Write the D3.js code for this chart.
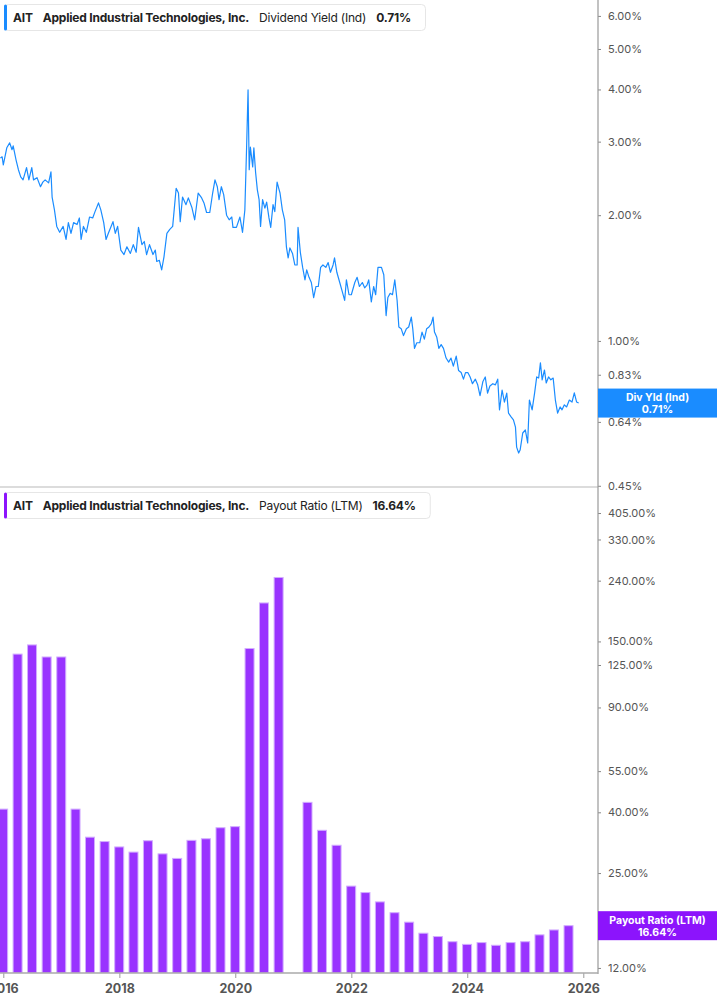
<!DOCTYPE html>
<html>
<head>
<meta charset="utf-8">
<script src="https://cdn.jsdelivr.net/npm/d3@7"></script>
<style>
  body { margin: 0; background: #fff; }
  svg text { font-family: Inter, 'Noto Sans', sans-serif; }
</style>
</head>
<body>
<svg id="chart" width="717" height="1005"></svg>
<script>
const ticker = 'AIT';
const company = 'Applied Industrial Technologies, Inc.';
const yieldName = 'Dividend Yield (Ind)';
const payoutName = 'Payout Ratio (LTM)';
const yieldBadge = ['Div Yld (Ind)', '0.71%'];
const payoutBadge = ['Payout Ratio (LTM)', '16.64%'];
const yieldLast = 0.71;
const payoutLast = 16.64;

// dividend yield, [decimal year, %]
const yieldEarly = [
  [2015.95,2.74],[2015.98,2.76],[2016.00,2.64],[2016.06,2.90],[2016.11,2.98],[2016.15,2.87],[2016.17,2.93],[2016.22,2.71],
  [2016.26,2.57],[2016.30,2.47],[2016.34,2.43],[2016.40,2.60],[2016.44,2.43],[2016.49,2.60],[2016.52,2.43],[2016.58,2.46],
  [2016.64,2.34],[2016.68,2.40],[2016.72,2.43],[2016.78,2.39],[2016.82,2.54],[2016.84,2.21],[2016.88,2.06],[2016.92,1.88],
  [2016.97,1.82],[2017.03,1.88],[2017.08,1.75],[2017.12,1.92],[2017.165,1.81],[2017.21,1.92],[2017.27,1.90],[2017.31,1.97],
  [2017.34,1.75],[2017.38,1.88],[2017.43,1.82],[2017.485,1.98],[2017.54,1.97],[2017.58,2.04],[2017.64,2.14],[2017.68,2.06],
  [2017.73,1.92],[2017.77,1.75],[2017.81,1.81],[2017.89,1.93],[2017.93,1.81],[2017.97,1.88],[2018.025,1.65],[2018.08,1.61],
  [2018.13,1.68],[2018.19,1.62],[2018.24,1.70],[2018.29,1.63],[2018.33,1.87],[2018.39,1.70],[2018.43,1.73],[2018.47,1.61],
  [2018.52,1.70],[2018.58,1.61],[2018.62,1.65],[2018.645,1.55],[2018.69,1.56],[2018.73,1.48],[2018.77,1.59],[2018.82,1.81],
  [2018.87,1.85],[2018.92,1.88],[2018.98,2.32]
];
const yieldMid = [
  [2019.02,2.26],[2019.05,1.93],[2019.09,2.21],[2019.15,2.12],[2019.19,2.20],[2019.25,2.09],[2019.30,1.95],[2019.36,2.26],
  [2019.42,2.20],[2019.46,2.14],[2019.505,2.03],[2019.56,2.03],[2019.61,2.26],[2019.65,2.43],[2019.69,2.34],[2019.72,2.18],
  [2019.76,2.34],[2019.80,2.24],[2019.85,2.00],[2019.895,1.95],[2019.94,1.98],[2019.96,1.87],[2020.02,1.87],[2020.08,1.98],
  [2020.125,1.82],[2020.165,2.06],[2020.195,2.91],[2020.22,3.99],[2020.24,2.57],[2020.26,2.91],[2020.30,2.61],[2020.32,2.90],
  [2020.35,2.53],[2020.38,2.30],[2020.41,2.18],[2020.435,1.88],[2020.47,2.18],[2020.51,2.08],[2020.54,2.15],[2020.58,1.97],
  [2020.61,1.87],[2020.65,2.12],[2020.68,2.04],[2020.72,2.40],[2020.755,2.30],[2020.77,2.26],[2020.81,2.06],[2020.85,1.95],
  [2020.88,1.68],[2020.91,1.58],[2020.94,1.67],[2020.985,1.62],[2021.025,1.52],[2021.065,1.52],[2021.08,1.87],[2021.12,1.63],
  [2021.16,1.50],[2021.20,1.40],[2021.23,1.48],[2021.27,1.42],[2021.31,1.38],[2021.35,1.27],[2021.39,1.35],[2021.43,1.35],
  [2021.47,1.50],[2021.51,1.52],[2021.56,1.50],[2021.60,1.54],[2021.64,1.46],[2021.685,1.52],[2021.71,1.58],[2021.75,1.46],
  [2021.80,1.38],[2021.845,1.31],[2021.885,1.25],[2021.915,1.40],[2021.96,1.29]
];
const yieldLate = [
  [2022.00,1.29],[2022.06,1.38],[2022.10,1.42],[2022.14,1.35],[2022.19,1.38],[2022.23,1.34],[2022.27,1.36],[2022.30,1.40],
  [2022.345,1.24],[2022.385,1.35],[2022.42,1.29],[2022.46,1.50],[2022.52,1.50],[2022.56,1.44],[2022.60,1.15],[2022.63,1.27],
  [2022.67,1.30],[2022.71,1.29],[2022.75,1.40],[2022.79,1.25],[2022.82,1.08],[2022.86,1.07],[2022.90,1.03],[2022.95,1.07],
  [2022.99,1.08],[2023.035,1.14],[2023.06,1.07],[2023.09,0.96],[2023.13,0.99],[2023.18,0.99],[2023.22,1.05],[2023.26,1.01],
  [2023.30,1.07],[2023.34,1.08],[2023.38,1.10],[2023.41,1.14],[2023.435,1.05],[2023.475,1.02],[2023.51,0.96],[2023.55,0.98],
  [2023.59,0.96],[2023.635,0.91],[2023.68,0.89],[2023.72,0.91],[2023.76,0.87],[2023.81,0.92],[2023.85,0.85],[2023.895,0.84],
  [2023.935,0.81],[2023.97,0.84],[2024.01,0.84],[2024.05,0.82],[2024.09,0.79],[2024.14,0.81],[2024.18,0.785],[2024.22,0.74],
  [2024.27,0.80],[2024.31,0.82],[2024.35,0.75],[2024.39,0.78],[2024.44,0.79],[2024.485,0.785],[2024.525,0.81],[2024.555,0.684],
  [2024.60,0.763],[2024.64,0.714],[2024.68,0.75],[2024.71,0.672],[2024.755,0.658],[2024.795,0.647],[2024.83,0.622],[2024.85,0.557],
  [2024.885,0.539],[2024.91,0.548],[2024.955,0.602],[2025.00,0.612],[2025.04,0.57],[2025.07,0.722],[2025.117,0.684],[2025.16,0.751],
  [2025.196,0.82],[2025.23,0.815],[2025.26,0.886],[2025.29,0.807],[2025.33,0.852],[2025.36,0.793],[2025.40,0.82],[2025.44,0.807],
  [2025.48,0.815],[2025.518,0.722],[2025.557,0.672],[2025.60,0.695],[2025.633,0.684],[2025.673,0.703],[2025.712,0.695],[2025.759,0.722],
  [2025.805,0.714],[2025.845,0.751],[2025.885,0.714],[2025.92,0.71]
];

// payout ratio, quarter end dates (Dec 2020 has no value)
const payoutDates = [
  '2015-12-31','2016-03-31','2016-06-30','2016-09-30','2016-12-31','2017-03-31','2017-06-30','2017-09-30',
  '2017-12-31','2018-03-31','2018-06-30','2018-09-30','2018-12-31','2019-03-31','2019-06-30','2019-09-30',
  '2019-12-31','2020-03-31','2020-06-30','2020-09-30','2021-03-31','2021-06-30','2021-09-30','2021-12-31',
  '2022-03-31','2022-06-30','2022-09-30','2022-12-31','2023-03-31','2023-06-30','2023-09-30','2023-12-31',
  '2024-03-31','2024-06-30','2024-09-30','2024-12-31','2025-03-31','2025-06-30','2025-09-30'
];
const payoutValues = [
  41, 136, 146, 133, 133, 41, 33.0, 31.9,
  30.6, 29.4, 32.1, 29.0, 28.0, 32.2, 32.6, 35.5,
  35.8, 142, 202, 246, 43.2, 34.8, 31.0, 22.6,
  21.5, 20.0, 18.4, 17.1, 15.7, 15.3, 14.7, 14.4,
  14.6, 14.3, 14.6, 14.7, 15.5, 16.1, 16.64
];

const yieldTicks = [6, 5, 4, 3, 2, 1, 0.83, 0.64, 0.45];
const payoutTicks = [405, 330, 240, 150, 125, 90, 55, 40, 25, 12];
const yearTicks = [2016, 2018, 2020, 2022, 2024, 2026];

const blue = '#1a8cff';
const purple = '#9933ff';
const purpleDark = '#8c14fc';

const svg = d3.select('#chart');
const plotRight = 598;
const topPanel = { top: 0, bottom: 487 };
const botPanel = { top: 488, bottom: 973 };

function fromDecimal(t) {
  const y = Math.floor(t);
  const start = new Date(y, 0, 1);
  const end = new Date(y + 1, 0, 1);
  return new Date(+start + (t - y) * (end - start));
}

const yieldData = [...yieldEarly, ...yieldMid, ...yieldLate].map(([t, v]) => ({
  date: fromDecimal(t),
  value: v
}));
const payoutData = payoutDates.map((d, i) => ({
  date: d3.timeParse('%Y-%m-%d')(d),
  value: payoutValues[i]
}));

const x = d3
  .scaleTime()
  .domain([new Date(2016, 0, 1), new Date(2026, 0, 1)])
  .range([3.3, 583.3]);
const yTop = d3.scaleLog().domain([0.447, 6.55]).range([topPanel.bottom, topPanel.top]);
const yBot = d3.scaleLog().domain([11.54, 491.5]).range([botPanel.bottom, botPanel.top]);

const defs = svg.append('defs');
defs.append('clipPath').attr('id', 'clip-top')
  .append('rect').attr('x', 0).attr('y', 0).attr('width', plotRight).attr('height', topPanel.bottom);
defs.append('clipPath').attr('id', 'clip-bot')
  .append('rect').attr('x', 0).attr('y', botPanel.top).attr('width', plotRight)
  .attr('height', botPanel.bottom - botPanel.top);

// panel separator
svg.append('line')
  .attr('x1', 0).attr('x2', plotRight)
  .attr('y1', 487).attr('y2', 487)
  .attr('stroke', '#dcdcdc').attr('stroke-width', 2);

// dividend yield line
const line = d3.line().x(d => x(d.date)).y(d => yTop(d.value));
svg.append('g').attr('clip-path', 'url(#clip-top)')
  .append('path')
  .datum(yieldData)
  .attr('fill', 'none')
  .attr('stroke', blue)
  .attr('stroke-width', 1.2)
  .attr('stroke-linejoin', 'round')
  .attr('d', line);

// payout bars
const barW = 9;
svg.append('g').attr('clip-path', 'url(#clip-bot)')
  .selectAll('rect')
  .data(payoutData)
  .join('rect')
  .attr('x', d => x(d.date) - barW / 2)
  .attr('y', d => yBot(d.value))
  .attr('width', barW)
  .attr('height', d => botPanel.bottom - yBot(d.value))
  .attr('fill', purple)
  .attr('stroke', '#d2adff')
  .attr('stroke-width', 1);

// right axes
function styleAxis(g) {
  g.select('.domain').remove();
  g.selectAll('.tick line').attr('stroke', '#888');
  g.selectAll('.tick text')
    .attr('fill', '#555')
    .style('font-size', '11px');
}
svg.append('g')
  .attr('transform', `translate(${plotRight},0)`)
  .call(d3.axisRight(yTop).tickValues(yieldTicks).tickFormat(d => d.toFixed(2) + '%').tickSize(3).tickPadding(7))
  .call(styleAxis);
svg.append('g')
  .attr('transform', `translate(${plotRight},0)`)
  .call(d3.axisRight(yBot).tickValues(payoutTicks).tickFormat(d => d.toFixed(2) + '%').tickSize(3).tickPadding(7))
  .call(styleAxis);

svg.append('line')
  .attr('x1', plotRight).attr('x2', plotRight)
  .attr('y1', 0).attr('y2', botPanel.bottom + 1)
  .attr('stroke', '#999').attr('stroke-width', 1.2);

// bottom axis
const xAxisG = svg.append('g')
  .attr('transform', `translate(0,${botPanel.bottom})`)
  .call(d3.axisBottom(x)
    .tickValues(yearTicks.map(y => new Date(y, 0, 1)))
    .tickFormat(d3.timeFormat('%Y'))
    .tickSize(5)
    .tickPadding(6));
xAxisG.select('.domain').remove();
xAxisG.selectAll('.tick line').attr('stroke', '#999');
xAxisG.selectAll('.tick text')
  .attr('fill', '#555')
  .style('font-size', '12.5px')
  .style('font-weight', 700);
svg.append('line')
  .attr('x1', 0).attr('x2', plotRight)
  .attr('y1', botPanel.bottom).attr('y2', botPanel.bottom)
  .attr('stroke', '#aaa').attr('stroke-width', 1.5);

// value badges on the axis
function badge(yPos, color, lines) {
  const g = svg.append('g');
  g.append('rect')
    .attr('x', plotRight).attr('y', yPos - 14.5)
    .attr('width', 717 - plotRight).attr('height', 29)
    .attr('fill', color);
  g.selectAll('text')
    .data(lines)
    .join('text')
    .attr('x', plotRight + (717 - plotRight) / 2)
    .attr('y', (d, i) => yPos - 2 + i * 12)
    .attr('text-anchor', 'middle')
    .attr('fill', '#fff')
    .style('font-size', '10.5px')
    .style('font-weight', 700)
    .text(d => d);
}
badge(yTop(yieldLast), blue, yieldBadge);
badge(yBot(payoutLast), purpleDark, payoutBadge);

// legends
function legend(y0, color, name, value) {
  const g = svg.append('g').attr('transform', `translate(4,${y0})`);
  const box = g.append('rect')
    .attr('x', 0.5).attr('y', 0.5)
    .attr('height', 26).attr('rx', 4)
    .attr('fill', '#fff')
    .attr('stroke', '#e6e6e6');
  g.append('rect')
    .attr('x', 0).attr('y', 0.5)
    .attr('width', 3).attr('height', 26).attr('rx', 1.5)
    .attr('fill', color);
  const parts = [
    { t: ticker, w: 700 },
    { t: company, w: 700 },
    { t: name, w: 400 },
    { t: value, w: 700 }
  ];
  let cx = 9;
  parts.forEach(p => {
    const t = g.append('text')
      .attr('x', cx).attr('y', 17.5)
      .attr('fill', '#222')
      .style('font-size', '12px')
      .style('letter-spacing', '-0.2px')
      .style('font-weight', p.w)
      .text(p.t);
    cx += t.node().getComputedTextLength() + 10;
  });
  box.attr('width', cx + 4);
}
legend(4, blue, yieldName, '0.71%');
legend(492, purpleDark, payoutName, '16.64%');
</script>
</body>
</html>
